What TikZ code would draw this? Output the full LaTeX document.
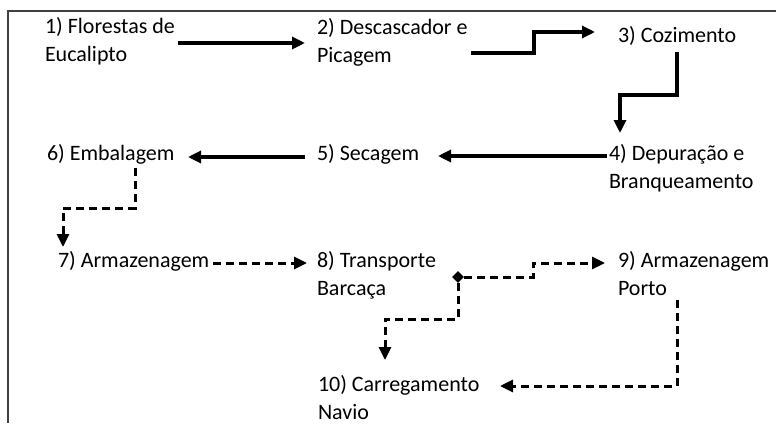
\documentclass[tikz,border=0pt]{standalone}
\usepackage{fontspec}
\setmainfont{Carlito}
\usetikzlibrary{arrows.meta,shapes.geometric}
\newcommand\lbltwo[2]{\begin{tabular}[t]{@{}l@{}}#1\\#2\end{tabular}}
\begin{document}
\begin{tikzpicture}[x=1pt,y=-1pt,
  lbl/.style={anchor=base west, inner sep=0pt, outer sep=0pt, font=\fontsize{22}{28.5}\selectfont},
  sarr/.style={line width=3.2pt, -{Triangle[length=13pt,width=12pt]}},
  darr/.style={line width=3pt, dash pattern=on 8pt off 5pt, -{Triangle[length=13pt,width=12pt]}},
  framel/.style={line width=1.8pt, draw=black!75, line join=miter},
  splitdot/.style={diamond, fill=black, inner sep=0pt, minimum width=12pt, minimum height=12pt}]
\useasboundingbox (0,0) rectangle (776,423);
\draw[framel] (8,423) -- (8,11) -- (776,11);

\node[lbl] (n1) at (45,33) {\lbltwo{1) Florestas de}{Eucalipto}};
\node[lbl] (n2) at (317,34) {\lbltwo{2) Descascador e}{Picagem}};
\node[lbl] (n3) at (618,42) {3) Cozimento};
\node[lbl] (n4) at (609,160) {\lbltwo{4) Depuração e}{Branqueamento}};
\node[lbl] (n5) at (317,160) {5) Secagem};
\node[lbl] (n6) at (47,160) {6) Embalagem};
\node[lbl] (n7) at (58,267) {7) Armazenagem};
\node[lbl] (n8) at (317,267) {\lbltwo{8) Transporte}{Barcaça}};
\node[lbl] (n9) at (618,267) {\lbltwo{9) Armazenagem}{Porto}};
\node[lbl] (n10) at (318,391) {\lbltwo{10) Carregamento}{Navio}};
\node[splitdot] (sp) at (458,277) {};

\draw[sarr] ([shift={(133,10)}]n1.base west) -- ([shift={(-12,9)}]n2.base west);
\draw[sarr] ([shift={(154,19)}]n2.base west) -| ([shift={(-84,-10)}]n3.base west) -- ([shift={(-23,-10)}]n3.base west);
\draw[sarr] ([shift={(59,10)}]n3.base west) |- ([shift={(11,-65)}]n4.base west) -- ([shift={(11,-27)}]n4.base west);
\draw[sarr] ([shift={(-2,-4)}]n4.base west) -- ([shift={(121,-4)}]n5.base west);
\draw[sarr] ([shift={(-12,-3)}]n5.base west) -- ([shift={(141,-3)}]n6.base west);
\draw[darr] ([shift={(88,8)}]n6.base west) |- ([shift={(5,-59)}]n7.base west) -- ([shift={(5,-20)}]n7.base west);
\draw[darr] ([shift={(155,-4)}]n7.base west) -- ([shift={(-10,-4)}]n8.base west);
\draw[darr] (sp.east) -| ([shift={(-85,-4)}]n9.base west) -- ([shift={(-13,-4)}]n9.base west);
\draw[darr] (sp.south) |- ([shift={(67,-72)}]n10.base west) -- ([shift={(67,-31)}]n10.base west);
\draw[darr] ([shift={(59,33)}]n9.base west) |- ([shift={(182,-5)}]n10.base west);
\end{tikzpicture}
\end{document}
